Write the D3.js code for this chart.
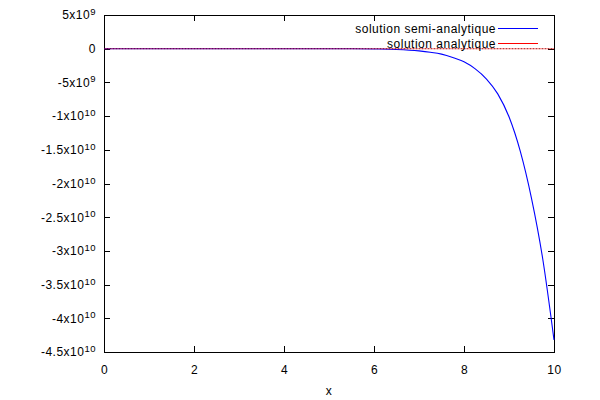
<!DOCTYPE html>
<html>
<head>
<meta charset="utf-8">
<script src="https://cdn.jsdelivr.net/npm/d3@7"></script>
<style>
  html, body { margin: 0; padding: 0; background: #fff; }
  svg text { font-family: "Liberation Sans", Arial, Helvetica, sans-serif; }
</style>
</head>
<body>
<svg id="chart" width="600" height="400"></svg>
<script>
// ---- data ----
const xValues = [0, 1, 2, 3, 4, 5, 5.5, 6, 6.5, 7, 7.25, 7.5, 7.75, 8, 8.25, 8.5, 8.75, 9, 9.25, 9.5, 9.75, 10];
const semiAnalytic = [0, 0, 0, 0, 0, 0, -0.01e9, -0.04e9, -0.11e9, -0.32e9, -0.52e9, -0.8e9, -1.3e9, -1.95e9, -3.0e9, -4.5e9, -6.7e9, -10.1e9, -15.2e9, -22.2e9, -31.2e9, -43.2e9];
const analytic = [0, 0, 0, 0, 0, 0, 0, 0, 0, 0, 0, 0, 0, 0, 0, 0, 0, 0, 0, 0, 0, 0];
const seriesNames = ["solution semi-analytique", "solution analytique"];
const seriesColors = ["#0000ff", "#ff0000"];
const xTicks = [0, 2, 4, 6, 8, 10];
const yTicks = [5e9, 0, -5e9, -1e10, -1.5e10, -2e10, -2.5e10, -3e10, -3.5e10, -4e10, -4.5e10];
const yTickLabels = ["5x10^9", "0", "-5x10^9", "-1x10^10", "-1.5x10^10", "-2x10^10", "-2.5x10^10", "-3x10^10", "-3.5x10^10", "-4x10^10", "-4.5x10^10"];
const xLabel = "x";

// ---- layout ----
const svg = d3.select("#chart");
const m = { left: 104, right: 46, top: 15, bottom: 48 };
const W = 600 - m.left - m.right;
const H = 400 - m.top - m.bottom;
const g = svg.append("g").attr("transform", `translate(${m.left},${m.top})`);

const x = d3.scaleLinear().domain([0, 10]).range([0, W]);
const y = d3.scaleLinear().domain([-4.5e10, 5e9]).range([H, 0]);

const fontSize = 12;
const ls = "0.5px";

// axes
const axL = g.append("g").call(d3.axisLeft(y).tickValues(yTicks).tickSize(-6).tickSizeOuter(0).tickPadding(8));
axL.selectAll("text").each(function(d, i) {
  const t = d3.select(this);
  const parts = yTickLabels[i].split("^");
  t.text(null).attr("font-size", fontSize).attr("letter-spacing", ls).attr("fill", "#000");
  t.append("tspan").text(parts[0]);
  if (parts[1]) t.append("tspan").attr("font-size", 9.5).attr("dy", "-0.45em").text(parts[1]);
});
const axB = g.append("g").attr("transform", `translate(0,${H})`)
  .call(d3.axisBottom(x).tickValues(xTicks).tickSize(-6).tickSizeOuter(0).tickPadding(13));
axB.selectAll("text").attr("font-size", fontSize).attr("letter-spacing", ls).attr("fill", "#000");
const axR = g.append("g").attr("transform", `translate(${W},0)`)
  .call(d3.axisRight(y).tickValues(yTicks).tickSize(-6).tickSizeOuter(0).tickFormat(""));
const axT = g.append("g")
  .call(d3.axisTop(x).tickValues(xTicks).tickSize(-6).tickSizeOuter(0).tickFormat(""));
[axL, axB, axR, axT].forEach(a => {
  a.select(".domain").remove();
  a.selectAll("line").attr("stroke", "#000").attr("shape-rendering", "crispEdges");
});

// frame
g.append("rect").attr("x", 0.5).attr("y", 0.5).attr("width", W).attr("height", H)
  .attr("fill", "none").attr("stroke", "#000").attr("shape-rendering", "crispEdges");

// x label
g.append("text").attr("x", W / 2).attr("y", H + 43).attr("text-anchor", "middle")
  .attr("font-size", fontSize).attr("letter-spacing", ls).text(xLabel);

// lines
const line = d3.line().x(d => x(d[0])).y(d => y(d[1])).curve(d3.curveMonotoneX);
const semiData = xValues.map((v, i) => [v, semiAnalytic[i]]);
const anaData = xValues.map((v, i) => [v, analytic[i]]);
g.append("path").datum(semiData).attr("d", line).attr("fill", "none")
  .attr("stroke", seriesColors[0]).attr("stroke-width", 1.1);
g.append("path").datum(anaData).attr("d", line).attr("fill", "none")
  .attr("stroke", seriesColors[1]).attr("stroke-width", 1.1).attr("stroke-opacity", 0.6);

// zero axis (dotted)
g.append("line").attr("x1", x(0)).attr("x2", x(10)).attr("y1", y(0)).attr("y2", y(0))
  .attr("stroke", "#000").attr("stroke-width", 1).attr("stroke-dasharray", "1,2").attr("stroke-opacity", 0.5);

// legend
const legend = g.append("g");
seriesNames.forEach((name, i) => {
  const ly = 13.5 + i * 15;
  legend.append("line").attr("x1", 394).attr("x2", 434).attr("y1", ly).attr("y2", ly)
    .attr("stroke", seriesColors[i]).attr("stroke-width", 1.1);
  legend.append("text").attr("x", 392).attr("y", ly + 4.5).attr("text-anchor", "end")
    .attr("font-size", fontSize).attr("letter-spacing", ls).text(name);
});
</script>
</body>
</html>
